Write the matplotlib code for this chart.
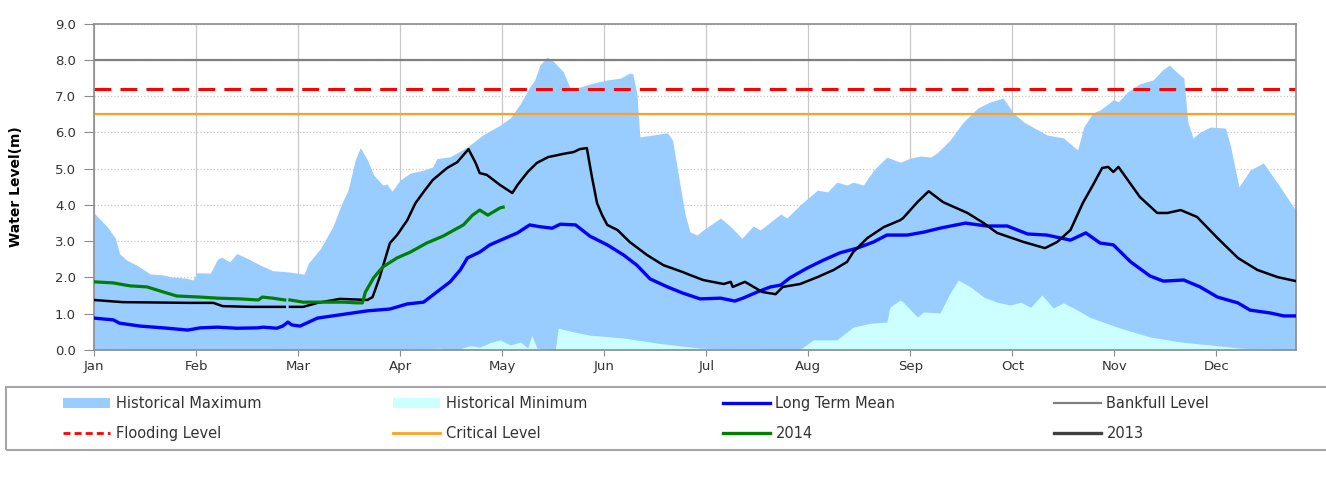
import numpy as np
import matplotlib
matplotlib.use("Agg")
import matplotlib.pyplot as plt
from matplotlib.patches import Patch, Rectangle
from matplotlib.lines import Line2D

# x positions are in months from 1 Jan (0 = Jan, 1 = Feb, ...)
months = ['Jan', 'Feb', 'Mar', 'Apr', 'May', 'Jun', 'Jul', 'Aug', 'Sep', 'Oct', 'Nov', 'Dec']

max_x = [0.00, 0.13, 0.21, 0.25, 0.32, 0.42, 0.55, 0.68, 0.77, 0.91, 0.97, 1.01, 1.14, 1.21,
         1.25, 1.33, 1.40, 1.50, 1.63, 1.75, 1.92, 2.06, 2.10, 2.22, 2.34, 2.43, 2.49, 2.56,
         2.61, 2.68, 2.74, 2.83, 2.87, 2.92, 3.00, 3.10, 3.23, 3.32, 3.36, 3.49, 3.66, 3.81,
         3.98, 4.08, 4.18, 4.27, 4.32, 4.37, 4.44, 4.50, 4.60, 4.67, 4.76, 4.89, 5.03, 5.16,
         5.25, 5.28, 5.32, 5.35, 5.48, 5.62, 5.67, 5.73, 5.79, 5.84, 5.91, 5.97, 6.14, 6.24,
         6.35, 6.46, 6.53, 6.73, 6.79, 6.92, 7.09, 7.19, 7.28, 7.38, 7.44, 7.54, 7.64, 7.77,
         7.90, 8.00, 8.10, 8.20, 8.26, 8.39, 8.52, 8.66, 8.78, 8.91, 9.01, 9.11, 9.25, 9.34,
         9.50, 9.64, 9.70, 9.79, 9.86, 9.99, 10.04, 10.13, 10.25, 10.38, 10.47, 10.54, 10.62,
         10.68, 10.72, 10.77, 10.84, 10.94, 11.09, 11.14, 11.22, 11.33, 11.46, 11.60, 11.73, 11.78]
max_y = [3.78, 3.40, 3.08, 2.66, 2.48, 2.34, 2.10, 2.07, 2.01, 1.98, 1.93, 2.13, 2.12, 2.50,
         2.56, 2.43, 2.66, 2.53, 2.34, 2.19, 2.15, 2.09, 2.39, 2.80, 3.40, 4.05, 4.41, 5.24,
         5.58, 5.24, 4.83, 4.55, 4.58, 4.38, 4.69, 4.88, 4.96, 5.05, 5.28, 5.33, 5.60, 5.93,
         6.20, 6.40, 6.80, 7.25, 7.45, 7.86, 8.08, 7.97, 7.67, 7.20, 7.25, 7.36, 7.45, 7.50,
         7.64, 7.62, 7.08, 5.88, 5.93, 5.99, 5.79, 4.78, 3.78, 3.26, 3.17, 3.31, 3.64, 3.40,
         3.08, 3.42, 3.31, 3.75, 3.64, 4.00, 4.41, 4.36, 4.63, 4.55, 4.63, 4.55, 4.96, 5.32,
         5.18, 5.29, 5.35, 5.32, 5.43, 5.79, 6.29, 6.67, 6.84, 6.95, 6.54, 6.29, 6.07, 5.93,
         5.85, 5.52, 6.15, 6.54, 6.62, 6.90, 6.85, 7.12, 7.34, 7.45, 7.72, 7.86, 7.64,
         7.50, 6.29, 5.85, 6.01, 6.15, 6.12, 5.60, 4.50, 4.96, 5.16, 4.60, 4.05, 3.86]

min_x = [0.00, 3.00, 3.39, 3.54, 3.69, 3.78, 3.88, 3.98, 4.08, 4.18, 4.25, 4.29, 4.34, 4.45,
         4.52, 4.55, 4.70, 4.86, 5.19, 5.52, 5.94, 6.14, 6.92, 7.05, 7.28, 7.44, 7.61, 7.77,
         7.80, 7.90, 7.93, 8.07, 8.13, 8.29, 8.39, 8.47, 8.59, 8.72, 8.85, 8.98, 9.08, 9.18,
         9.29, 9.40, 9.50, 9.64, 9.76, 9.86, 10.06, 10.35, 10.65, 10.94, 11.24, 11.78]
min_y = [0.02, 0.02, 0.05, 0.00, 0.12, 0.08, 0.20, 0.28, 0.14, 0.22, 0.05, 0.41, 0.05, 0.02,
         0.00, 0.60, 0.50, 0.41, 0.33, 0.19, 0.05, 0.03, 0.02, 0.28, 0.28, 0.63, 0.74, 0.77,
         1.18, 1.38, 1.32, 0.91, 1.05, 1.02, 1.57, 1.93, 1.74, 1.46, 1.32, 1.24, 1.32, 1.18,
         1.52, 1.16, 1.30, 1.10, 0.90, 0.80, 0.60, 0.36, 0.22, 0.14, 0.05, 0.00]

mean_x = [0.00, 0.19, 0.25, 0.45, 0.68, 0.92, 1.04, 1.21, 1.40, 1.60, 1.66, 1.79, 1.85, 1.90,
          1.94, 2.02, 2.19, 2.41, 2.68, 2.90, 3.07, 3.23, 3.36, 3.49, 3.59, 3.66, 3.78, 3.88,
          4.01, 4.15, 4.27, 4.37, 4.49, 4.57, 4.72, 4.86, 5.03, 5.19, 5.32, 5.45, 5.62, 5.77,
          5.94, 6.14, 6.28, 6.36, 6.50, 6.63, 6.73, 6.82, 6.99, 7.15, 7.31, 7.48, 7.64, 7.77,
          7.97, 8.13, 8.29, 8.54, 8.75, 8.95, 9.15, 9.34, 9.57, 9.72, 9.86, 9.99, 10.16, 10.35,
          10.48, 10.68, 10.84, 11.01, 11.21, 11.33, 11.53, 11.66, 11.78]
mean_y = [0.88, 0.83, 0.74, 0.66, 0.61, 0.55, 0.61, 0.63, 0.60, 0.61, 0.63, 0.60, 0.66, 0.77,
          0.69, 0.66, 0.88, 0.97, 1.08, 1.13, 1.27, 1.32, 1.60, 1.88, 2.21, 2.54, 2.70, 2.90,
          3.06, 3.23, 3.45, 3.40, 3.36, 3.47, 3.45, 3.14, 2.90, 2.62, 2.34, 1.96, 1.74, 1.57,
          1.41, 1.43, 1.35, 1.43, 1.60, 1.74, 1.79, 1.99, 2.26, 2.48, 2.68, 2.81, 2.98, 3.17,
          3.17, 3.25, 3.36, 3.50, 3.42, 3.42, 3.20, 3.17, 3.03, 3.23, 2.95, 2.90, 2.43, 2.04,
          1.90, 1.93, 1.74, 1.46, 1.30, 1.10, 1.02, 0.94, 0.94]

y2013_x = [0.00, 0.28, 0.94, 1.17, 1.26, 1.53, 1.87, 1.895, 1.92, 2.05, 2.19, 2.41, 2.68, 2.73,
           2.80, 2.90, 2.97, 3.07, 3.15, 3.23, 3.32, 3.46, 3.56, 3.67, 3.74, 3.78, 3.85, 3.98,
           4.10, 4.15, 4.25, 4.34, 4.45, 4.60, 4.70, 4.76, 4.83, 4.88, 4.93, 4.98, 5.03, 5.13,
           5.25, 5.42, 5.58, 5.77, 5.84, 5.97, 6.17, 6.24, 6.26, 6.38, 6.55, 6.68, 6.75, 6.92,
           7.09, 7.25, 7.38, 7.44, 7.58, 7.74, 7.90, 7.93, 8.07, 8.18, 8.32, 8.56, 8.72, 8.85,
           9.11, 9.32, 9.44, 9.57, 9.69, 9.79, 9.88, 9.94, 9.99, 10.04, 10.25, 10.42, 10.52,
           10.65, 10.81, 11.01, 11.21, 11.40, 11.60, 11.78]
y2013 = [1.38, 1.32, 1.30, 1.30, 1.21, 1.19, 1.19, np.nan, 1.19, 1.19, 1.30, 1.41, 1.38, 1.46,
         2.01, 2.95, 3.17, 3.58, 4.05, 4.36, 4.69, 5.02, 5.18, 5.54, 5.16, 4.88, 4.83, 4.55,
         4.33, 4.55, 4.91, 5.16, 5.32, 5.41, 5.46, 5.54, 5.57, 4.77, 4.05, 3.72, 3.45, 3.31,
         2.98, 2.62, 2.34, 2.15, 2.07, 1.93, 1.82, 1.88, 1.74, 1.88, 1.60, 1.54, 1.74, 1.82,
         2.01, 2.21, 2.43, 2.70, 3.09, 3.39, 3.58, 3.64, 4.08, 4.38, 4.08, 3.78, 3.50, 3.23,
         2.98, 2.81, 2.98, 3.31, 4.05, 4.55, 5.02, 5.05, 4.91, 5.05, 4.22, 3.78, 3.78,
         3.86, 3.67, 3.09, 2.54, 2.21, 2.01, 1.90]

y2014_x = [0.00, 0.19, 0.35, 0.52, 0.68, 0.81, 1.04, 1.21, 1.43, 1.61, 1.65, 1.75, 1.87, 1.895,
           1.92, 2.05, 2.25, 2.44, 2.58, 2.63, 2.66, 2.74, 2.83, 2.97, 3.10, 3.26, 3.42, 3.62,
           3.71, 3.78, 3.86, 3.98, 4.01]
y2014 = [1.88, 1.85, 1.77, 1.74, 1.60, 1.49, 1.46, 1.43, 1.41, 1.38, 1.46, 1.43, 1.38, np.nan,
         1.38, 1.32, 1.32, 1.32, 1.30, 1.30, 1.60, 1.99, 2.29, 2.54, 2.70, 2.95, 3.14, 3.45,
         3.72, 3.86, 3.72, 3.92, 3.94]

bankfull = 8.0
flooding = 7.2
critical = 6.5

W, H = 1326, 487
fig = plt.figure(figsize=(W / 100, H / 100), dpi=100)
ax = fig.add_axes([94 / W, 1 - 350 / H, (1296 - 94) / W, (350 - 23.7) / H])

ax.fill_between(max_x, 0, max_y, color='#99CCFF', lw=0, zorder=1)
ax.fill_between(min_x, 0, min_y, color='#CCFFFF', lw=0, zorder=1.1)
ax.axhline(bankfull, color='#808080', lw=1.6, zorder=2)
ax.axhline(flooding, color='#FF0000', lw=2.2, ls=(0, (5.5, 3)), zorder=2)
ax.axhline(critical, color='#FFA020', lw=1.6, zorder=2)
ax.plot(mean_x, mean_y, color='#0000FF', lw=2.4, zorder=3)
ax.plot(y2013_x, y2013, color='#000000', lw=1.8, zorder=3)
ax.plot(y2014_x, y2014, color='#008000', lw=2.3, zorder=3)

ax.set_xlim(0, 11.78)
ax.set_ylim(0, 9)
ax.set_xticks(range(12))
ax.set_xticklabels(months)
ax.set_yticks(range(10))
ax.set_yticklabels(['%.1f' % v for v in range(10)])
ax.set_axisbelow(True)
ax.grid(axis='x', color='#C8C8C8', lw=0.9)
ax.grid(axis='y', color='#C8C8C8', lw=0.9, ls=':')
for s in ax.spines.values():
    s.set_color('#8C8C8C')
    s.set_linewidth(1.2)
ax.tick_params(axis='x', length=4, color='#8C8C8C', labelsize=9.5, labelcolor='#333333', pad=3)
ax.tick_params(axis='y', length=7, color='#8C8C8C', labelsize=9.5, labelcolor='#333333', pad=6)

ax.set_ylabel('Water Level(m)', family=['Liberation Sans Narrow', 'DejaVu Sans'],
              fontweight='bold', fontsize=10)
ax.yaxis.set_label_coords(-0.059, 0.5)

# legend: four columns of two entries, framed box under the plot
cols = [
    [(Patch(facecolor='#99CCFF', edgecolor='none'), 'Historical Maximum'),
     (Line2D([], [], color='#FF0000', lw=2, ls=(0, (2.5, 1.5))), 'Flooding Level')],
    [(Patch(facecolor='#CCFFFF', edgecolor='none'), 'Historical Minimum'),
     (Line2D([], [], color='#FFA020', lw=2), 'Critical Level')],
    [(Line2D([], [], color='#0000FF', lw=2.4), 'Long Term Mean'),
     (Line2D([], [], color='#008000', lw=2.4), '2014')],
    [(Line2D([], [], color='#808080', lw=1.6), 'Bankfull Level'),
     (Line2D([], [], color='#404040', lw=2.4), '2013')],
]
col_px = [63, 393, 723, 1054]
for px, entries in zip(col_px, cols):
    leg = fig.legend([e[0] for e in entries], [e[1] for e in entries],
                     loc='center left', bbox_to_anchor=(px / W, 1 - 418.5 / H),
                     frameon=False, fontsize=10.5, handlelength=3.2, handletextpad=0.4,
                     labelspacing=1.0, borderpad=0, borderaxespad=0)
    for t in leg.get_texts():
        t.set_color('#333333')

fig.patches.append(Rectangle((6 / W, 1 - 449.5 / H), 1.2, (449.5 - 387) / H,
                             transform=fig.transFigure, fill=False,
                             edgecolor='#A6A6A6', lw=1.5))

fig.savefig('out.png', dpi=100)
